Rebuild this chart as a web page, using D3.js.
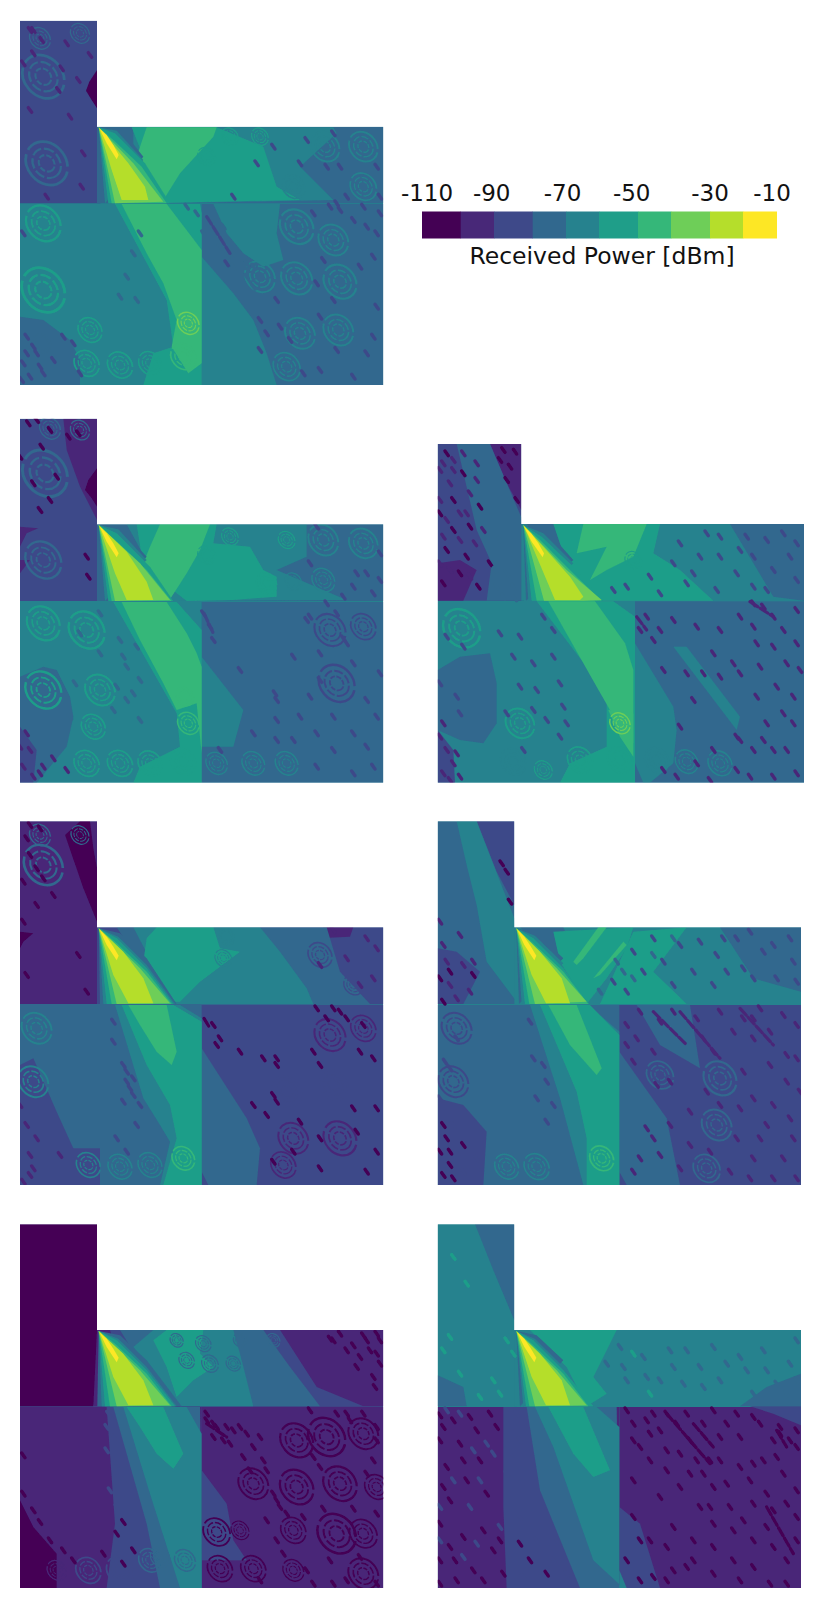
<!DOCTYPE html>
<html><head><meta charset="utf-8">
<script src="https://cdn.jsdelivr.net/npm/d3@7/dist/d3.min.js"></script>
<style>html,body{margin:0;padding:0;background:#fff}svg{display:block}text{font-family:"DejaVu Sans";fill:#111}</style>
</head><body><svg id="c" width="830" height="1607"></svg>
<script>
// Received power in dBm (bin centres); coordinates are read positions on a 1200-unit crop of each panel.
const binColors=["#440154","#482878","#3e4989","#31688e","#26828e","#1f9e89","#35b779","#6ece58","#b5de2b","#fde725"];
const barEdges=[422,460.7,494,532.7,566,599,638,671,710,743,776.7];
const tickLabels=["-110","-90","-70","-50","-30","-10"];
const tickX=[427,491.7,562.5,631.7,710,772];
const midBase=[-65,-65,-65,-75,-65,-85,-65];

const panelFrames=[
 {crop:[0,0],top:62,room:380,right:1150,stem:291,left:60,bottom:1155},
 {crop:[0,400],top:56,room:373,right:1150,stem:291,left:60,bottom:1148},
 {crop:[420,430],top:42,room:282,right:1152,stem:304,left:53,bottom:1058},
 {crop:[0,805],top:49,room:367,right:1150,stem:291,left:60,bottom:1140},
 {crop:[420,805],top:49,room:367,right:1143,stem:283,left:53,bottom:1140},
 {crop:[0,1207],top:52,room:369,right:1150,stem:291,left:60,bottom:1143},
 {crop:[420,1207],top:52,room:369,right:1143,stem:283,left:53,bottom:1143}
];

const regions1=[
[-85,"60,62 291,62 291,380 302,610 60,610"],
[-105,"291,210 268,245 258,272 275,300 291,325"],
[-75,"291,380 1150,380 1150,610 291,610"],
[-65,"640,382 1000,382 1010,400 900,500 1000,600 500,610 400,500 400,382"],
[-55,"395,382 650,382 790,440 830,560 900,600 500,608 430,470"],
[-45,"440,382 650,382 640,410 540,520 490,600 440,520 410,470"],
[-65,"60,612 605,612 605,1155 60,1155"],
[-75,"60,950 130,960 210,1020 240,1080 240,1155 60,1155"],
[-75,"605,612 1150,612 1150,1155 605,1155"],
[-65,"640,612 840,612 830,700 850,780 790,800 730,760 680,700"],
[-65,"605,770 700,880 760,960 800,1060 830,1155 605,1155"],
[-55,"345,612 600,612 605,640 605,1155 625,1155 430,1155 460,1060 520,1040 500,900"],
[-45,"365,612 500,612 605,750 605,1090 565,1120 515,1040 530,960 490,850 440,760"]];
const regions2=[
[-85,"60,56 291,56 291,373 302,603 60,603"],
[-95,"190,56 291,56 291,360 240,260 200,150"],
[-105,"291,205 265,240 255,270 275,295 291,320"],
[-95,"60,380 115,385 80,400 60,440"],[-95,"60,480 90,480 60,520"],
[-75,"291,373 1150,373 1150,603 291,603"],
[-65,"380,373 920,373 920,470 830,510 1040,600 520,603 460,520"],
[-55,"410,373 650,373 640,430 750,440 790,510 830,530 830,590 700,600 560,603 430,500"],
[-45,"480,373 630,373 600,450 560,520 510,598 460,520 430,490 450,440"],
[-65,"60,606 605,606 605,1148 60,1148"],
[-75,"60,830 130,800 170,810 210,890 220,950 200,1040 110,1148 60,1148"],
[-85,"60,980 110,1050 100,1148 60,1148"],
[-75,"605,606 1150,606 1150,1148 605,1148"],
[-65,"605,770 730,930 700,1040 605,1040"],
[-55,"340,606 530,606 605,690 605,1148 625,1148 400,1148 420,1100 540,1040 530,940"],
[-45,"365,606 500,606 560,700 590,760 605,800 605,1060 590,910 530,930 490,850 420,720"]];
const regions3=[
[-85,"53,42 304,42 304,282 312,512 53,512"],
[-95,"210,42 304,42 304,240 260,160"],
[-75,"110,42 210,42 304,262 312,512 200,512 215,400 170,300"],
[-95,"53,400 120,390 170,420 130,512 53,512"],
[-65,"304,282 1152,282 1152,512 304,512"],
[-75,"320,282 430,282 470,380 420,390"],[-75,"930,282 1152,282 1152,512 1060,500"],
[-55,"400,282 720,282 700,370 780,420 880,512 540,512 440,400"],
[-45,"490,282 680,282 640,380 560,420 510,450 560,350 470,370"],
[-65,"53,514 645,514 645,1058 53,1058"],
[-75,"53,720 120,680 210,670 230,760 230,880 190,940 120,930 53,900"],
[-85,"53,900 100,960 105,1058 53,1058"],
[-75,"645,514 1152,514 1152,1058 645,1058"],
[-65,"645,640 760,830 770,900 760,1000 690,1058 670,1058 645,1000"],
[-65,"760,650 800,650 960,860 950,900"],
[-55,"350,514 580,514 645,560 645,1058 670,1058 420,1058 450,1000 560,950 560,790"],
[-45,"385,514 525,514 615,640 640,720 640,940 570,840 530,770"],
[-45,"565,840 640,850 640,980 600,920"]];
const regions4=[
[-95,"60,49 291,49 291,367 296,597 60,597"],
[-105,"195,90 240,49 270,49 280,130 291,190 291,350 250,250"],
[-105,"60,380 100,385 70,410 60,430"],
[-85,"291,367 1150,367 1150,597 291,597"],
[-95,"970,367 1060,367 1050,395 960,400"],
[-75,"350,367 980,367 1020,500 1110,597 500,597"],
[-65,"400,367 780,367 840,440 920,550 940,597 520,597"],
[-55,"440,400 470,367 640,367 660,430 720,440 600,530 540,590 500,590 470,520 430,470"],
[-75,"60,600 605,600 605,1140 60,1140"],
[-85,"60,780 100,760 170,920 220,1030 300,1030 300,1140 60,1140"],
[-85,"605,600 1150,600 1150,1140 605,1140"],
[-75,"605,730 740,940 780,1030 770,1140 625,1140 605,1100"],
[-65,"345,600 540,600 605,640 605,1140 625,1140 480,1140 510,1010 480,960 430,880"],
[-55,"365,600 520,600 605,650 605,1140 625,1140 490,1140 530,1000 510,900 440,780"],
[-45,"385,600 500,600 530,740 515,780 470,740 420,660"]];
const regions5=[
[-75,"53,49 283,49 283,367 292,597 53,597"],
[-85,"170,49 283,49 283,300 230,200"],
[-65,"110,49 170,49 283,340 290,590 200,470 170,300 140,180"],
[-85,"53,430 110,440 180,500 130,597 53,597"],
[-65,"283,367 1143,367 1143,597 283,597"],
[-75,"300,367 430,367 470,460 380,440"],[-75,"900,367 1143,367 1143,560 1000,520"],
[-55,"400,380 640,367 620,430 560,520 500,597 420,470"],
[-55,"640,380 800,367 700,500 800,597 540,597"],
[-45,"535,367 560,367 490,460 470,480 460,470"],
[-45,"610,410 620,420 540,510 520,520"],
[-75,"53,600 600,600 600,1140 53,1140"],
[-85,"53,880 130,900 200,980 190,1140 53,1140"],
[-85,"598,600 1143,600 1143,1140 598,1140"],
[-75,"598,740 740,940 780,1140 620,1140 598,1100"],
[-75,"650,600 810,600 840,790 720,720"],
[-65,"330,600 505,600 598,680 598,1140 490,1140 420,880"],
[-55,"360,600 510,600 598,690 598,1140 620,1140 500,1140 500,1000 470,860"],
[-45,"385,600 470,600 545,790 530,810 450,720"]];
const regions6=[
[-105,"60,52 291,52 291,369 291,560 280,598 60,598"],
[-95,"291,369 1150,369 1150,598 280,598"],
[-85,"330,369 840,369 950,540 1090,598 400,598"],
[-75,"360,369 790,369 870,480 960,598 500,598"],
[-65,"400,420 460,369 700,369 720,440 760,598 540,598"],
[-55,"460,400 500,369 610,369 600,440 640,480 580,520 530,570 500,480"],
[-95,"60,600 605,600 605,1143 60,1143"],
[-105,"60,880 100,960 170,1040 170,1143 60,1143"],
[-95,"605,600 1150,600 1150,1143 605,1143"],
[-85,"605,790 680,890 700,1000 740,1060 605,1060"],
[-85,"320,600 600,600 605,1143 320,1143 345,950"],
[-75,"340,600 600,600 605,1143 480,1143 440,950"],
[-65,"370,600 560,600 605,680 605,1143 625,1143 540,1143 450,860"],
[-55,"380,600 490,600 550,740 520,785 470,740 420,660"]];
const regions7=[
[-65,"53,52 283,52 283,369 290,598 53,598"],
[-75,"165,52 283,52 283,340 220,190"],
[-75,"53,505 130,540 140,598 53,598"],
[-65,"283,369 1143,369 1143,598 283,598"],
[-75,"1143,500 1040,540 960,598 1143,598"],
[-55,"330,369 590,369 560,430 520,510 560,560 500,598 440,480"],
[-95,"53,600 598,600 598,1143 53,1143"],
[-85,"250,600 345,600 400,840 500,1143 260,1143 250,900"],
[-95,"598,600 1143,600 1143,1143 598,1143"],
[-85,"990,598 1143,598 1143,655 1060,620"],
[-85,"598,900 660,950 720,1143 598,1143"],
[-75,"320,600 590,600 598,1143 480,1143 360,850"],
[-65,"345,600 530,600 598,660 598,1143 610,1143 520,1060 400,720"],
[-55,"385,600 490,600 570,790 520,810 460,740"],
[-65,"598,1090 620,1143 598,1143"]];
const regionsAll=[regions1,regions2,regions3,regions4,regions5,regions6,regions7];

// Fan of the direct beam near the source, one per panel: power, outline
const fan1=[[-75,"296,382 360,382 430,470 306,610"],[-65,"296,382 350,392 430,480 315,610"],[-55,"296,382 345,400 435,490 510,610 325,610"],[-45,"296,382 340,420 425,500 500,610 335,610"],[-35,"296,382 400,490 490,605 345,610"],[-25,"296,382 385,490 435,560 445,600 365,600 335,510"],[-15,"298,385 320,430 350,478 356,465 340,435 320,405"]];
const fan2=[[-75,"296,375 360,380 440,470 306,603"],[-65,"296,375 355,388 440,480 315,603"],[-55,"296,375 350,400 450,500 520,603 325,603"],[-45,"296,375 340,420 440,510 515,603 335,603"],[-35,"296,375 420,490 510,600 345,603"],[-25,"296,375 380,455 440,545 460,600 380,600 345,520"],[-15,"298,378 320,425 350,472 356,460 340,430 320,400"]];
const fan3=[[-75,"310,285 380,300 460,390 318,512"],[-65,"310,285 370,310 460,400 325,512"],[-55,"310,285 365,320 470,420 548,512 335,512"],[-45,"310,285 360,330 470,440 545,512 350,512"],[-35,"310,285 440,420 545,510 490,512 372,512"],[-25,"310,285 370,350 450,440 490,500 480,510 405,510"],[-15,"311,288 335,335 368,382 372,370 355,340 335,312"]];
const fan4=[[-75,"296,370 360,385 440,460 530,597 300,597"],[-65,"296,370 355,395 440,480 525,597 310,597"],[-55,"296,370 350,400 440,490 520,597 320,597"],[-45,"296,370 345,410 440,500 515,597 335,597"],[-35,"296,370 420,490 510,595 350,597"],[-25,"296,370 370,440 430,520 460,595 385,595 340,510"],[-15,"298,373 320,420 350,466 356,452 340,425 320,395"]];
const fan5=[[-75,"289,370 350,385 430,460 297,597"],[-65,"289,370 345,392 430,475 305,597"],[-55,"289,370 340,400 430,490 508,597 315,597"],[-45,"289,370 335,410 430,500 505,597 328,597"],[-35,"289,370 410,490 500,590 345,597"],[-25,"289,370 360,440 425,520 450,595 378,595 335,510"],[-15,"291,373 313,420 343,466 349,452 333,425 313,395"]];
const fan6=[[-75,"296,372 360,385 440,460 545,598 292,598"],[-65,"296,372 355,395 440,480 530,598 305,598"],[-55,"296,372 350,400 440,490 525,598 315,598"],[-45,"296,372 345,410 440,500 515,598 330,598"],[-35,"296,372 420,490 510,595 350,598"],[-25,"296,372 370,440 430,520 460,595 385,595 340,510"],[-15,"298,375 320,420 350,466 356,452 340,425 320,395"]];
const fan7=[[-75,"289,372 350,385 430,460 300,598"],[-65,"289,372 345,395 430,480 310,598"],[-55,"289,372 340,400 430,490 520,598 318,598"],[-45,"289,372 335,410 430,500 505,598 328,598"],[-35,"289,372 410,490 500,595 345,598"],[-25,"289,372 360,440 425,520 450,595 378,595 335,510"],[-15,"291,375 313,420 343,466 349,452 333,425 313,395"]];
const fansAll=[fan1,fan2,fan3,fan4,fan5,fan6,fan7];

// Interference rings: power, "cx,cy,r"
const rings1=[
[-75,"130,230,70 140,490,70 240,100,32 120,115,35"],
[-55,"130,670,58 130,870,72 260,1090,42 360,1095,42 450,1090,38 270,990,40"],
[-75,"125,1030,30"],
[-35,"565,970,36"],[-45,"550,1070,42"],
[-65,"975,440,48 1090,440,48 880,560,38 1090,560,44"],
[-55,"620,470,30 690,410,28 780,410,28"],
[-65,"890,835,52 1020,845,55 900,1000,50 1015,990,50 780,830,50 890,680,56 1000,720,50 860,1100,45"]];
const rings2=[
[-75,"135,220,75 150,85,35 240,90,32 130,480,60"],
[-55,"130,670,55 260,690,60 130,870,60 260,1090,42 360,1090,42 450,1090,40 550,1085,42"],
[-55,"300,870,50 280,980,40"],
[-45,"565,970,36 555,890,30"],
[-55,"620,465,30 800,550,34 690,410,28 860,420,28"],
[-65,"970,420,50 1090,430,48 970,540,38 880,545,28"],
[-85,"990,690,52 1090,680,42 1010,850,60"],
[-65,"650,1090,36 760,1090,38 860,1090,38"]];
const rings3=[
[-55,"125,595,62 300,880,48 370,1020,30 480,990,42 600,990,42"],
[-65,"280,995,42"],
[-35,"600,880,34"],
[-65,"710,990,40 800,995,38 900,1000,40"],
[-55,"640,390,28"]];
const rings4=[
[-75,"130,180,65 120,90,35 240,90,30"],
[-65,"110,670,50 100,830,50 265,1080,40 360,1085,40 450,1080,40"],
[-45,"550,1060,38"],
[-65,"670,460,28 680,395,26"],
[-85,"960,450,40 1060,540,32 860,860,50 1000,840,48"],
[-95,"990,690,52 1090,670,42 880,1000,50 1020,1000,55 850,1080,42"]];
const rings5=[
[-85,"110,670,50 100,830,50"],
[-65,"260,1085,40 350,1085,42"],
[-45,"545,1060,40"],
[-75,"720,810,45"],[-75,"860,1090,45"],[-75,"900,820,55 890,960,50"]];
const rings6=[
[-95,"170,1090,32"],
[-85,"265,1090,42 360,1090,45"],
[-75,"450,1060,38 555,1060,35 480,1050,32"],
[-75,"530,400,22 610,410,26 630,470,28 560,460,26 700,470,24 720,400,22 820,400,22"],
[-105,"890,700,55 980,690,62 1090,680,50 890,840,56 1020,830,56 1130,840,40 1010,980,64 880,970,42 1090,980,46 760,830,50"],
[-105,"650,975,45 660,1085,42 760,1085,42 880,1090,35 1090,1100,50 720,970,30"]];
const rings7=[];
const ringsAll=[rings1,rings2,rings3,rings4,rings5,rings6,rings7];

// Isolated fading dips: power, "x,y" centres
const dips1=[
[-95,"90,90 125,120 200,130 100,160 185,205 235,240 90,330 210,350 250,460 100,90 70,190 270,165 175,270 140,590 245,560"],
[-75,"610,700 640,670 620,650 680,770 700,800 740,830 660,740 590,640 560,620 420,700 400,760 380,830 410,900 360,890 650,700 700,760 730,790 670,680 760,800 760,860 740,790"],
[-85,"1020,630 990,620 1060,660 1100,680 1010,610 970,780 950,850 830,900 680,790 870,1020 1010,1050 1130,700 1080,800 1130,920 1000,900 960,1110 1060,1130 780,960 800,1000 840,980 1100,1060 1090,620 1140,640 940,640 1120,770 960,950 780,1050 910,1120 1120,1010"],
[-85,"80,1010 100,1040 120,1100 130,1120 70,1090 90,1130 220,1030 160,1080 190,1010 80,1060 70,700 240,1120 65,1140 110,1060"],
[-85,"1020,500 980,500 900,490 1040,590 1140,590 820,440 700,590 770,490 920,420 1130,500 1000,400"]];
const dips2=[
[-105,"85,70 110,60 205,110 235,100 150,90 125,140 170,230 100,250 60,170 150,300 120,330 260,470 265,530"],
[-85,"610,640 630,680 640,720 930,650 1030,715 1040,730 960,840 830,900 825,880 1060,1000 1100,1040 1000,950 880,770 1140,820 1130,950 1060,1120 950,1100 660,1050 920,660 1010,640 980,610 720,810 760,1000 830,960 900,950 950,1000 1120,1100 1000,1050 880,1020 930,890 1100,900 960,760 830,1020 1060,790"],
[-95,"160,1075 80,1000 90,1050 70,1100 120,1120 100,1130 200,1110 60,1040 130,1100"],
[-85,"1140,460 1070,520 1120,580 1140,540 930,490 1030,590 1100,520 1060,560 950,380"],
[-75,"370,770 350,860 400,880 420,840 300,760 240,700 225,850 210,950 380,800 410,740 360,720 300,640 420,960 380,900 340,930"]];
const dips3=[
[-105,"80,70 130,130 100,210 180,230 150,290 80,360 210,400 70,460 120,430 175,470 100,300 140,380 60,250 250,60 285,65 270,110 290,210 260,150 240,90"],
[-95,"60,120 170,100 90,160 70,320 120,250 165,340 60,400 90,420 150,440 70,100 130,70 100,120 150,190 60,210 120,330 190,300 170,150 80,270 140,250 100,90"],
[-75,"240,330 260,430 230,470 280,470 290,400 250,500 285,505 225,420"],
[-85,"980,320 1040,330 900,320 840,380 950,430 1110,380 1060,420 1130,450 800,460 890,480 1000,470 760,400 860,310 1000,380 1090,310 1130,340 1040,480 900,380 780,340 960,360 820,430 720,490 620,470 690,440 580,480"],
[-95,"1000,520 1030,530 1060,560 1090,600 680,560 720,600 700,630 900,600 1010,640 1070,770 950,920 960,930 820,810 730,720 1040,880 1100,960 1120,800 880,670 1020,710 780,890 830,1000 950,1020 1060,1040 1130,640 660,600 760,570 830,590 960,560 1000,590 1130,540 1100,700 1140,720 960,730 900,740 850,730 800,730 1060,650 1010,800 940,700 1120,880 1000,960 880,960 1060,960 1130,1030 990,1040 870,1050 770,1040 730,1020 1090,850 1030,930"],
[-95,"60,920 80,960 70,1030 100,1000 120,1040 90,1050 70,880 110,970"],
[-85,"420,760 400,680 370,560 430,830 350,780 120,850 110,800 310,960 420,920 400,600 300,620 280,680 340,700 240,610 300,770 260,850 380,870 340,840 440,880 130,650 60,760 80,620"]];
const dips4=[
[-105,"90,60 120,70 80,100 90,150 110,190 70,230 130,220 160,270 70,350 110,300 235,450 260,560 80,510"],
[-95,"60,900 80,960 90,1050 100,1090 70,1130 90,1110 110,1000 180,1050"],
[-105,"640,660 660,700 720,740 820,870 830,890 940,740 960,780 650,720 1090,660 1040,640 1000,610 1130,910 950,610 1070,980 880,1040 820,1070 960,1090 1100,1100 790,760 1080,740 960,1000 1020,620 980,640 830,780 830,760 1130,1040 1120,760 760,900 800,930 900,950 1060,910"],
[-95,"1000,375 1130,430 1120,520 1080,540 960,480 1100,400 1040,460"],
[-85,"370,780 380,830 400,870 370,890 410,960 340,650 340,710 380,800 390,850 400,820 420,900 350,1000 380,1040"]];
const dips5=[
[-105,"60,520 70,590 90,500 160,510 260,200 245,175 270,290 60,1040 90,1080 70,1110 80,1000 100,1120 90,1040 130,1020 70,960"],
[-95,"60,350 120,390 80,470 150,560 110,580 70,420 130,480 90,540 160,470"],
[-85,"110,700 90,790 350,880 380,830 400,900 330,650 380,950 75,770 60,880 100,960 170,1060 130,1100 340,760 370,780"],
[-95,"620,660 650,700 700,740 710,840 750,830 970,800 1020,610 1090,630 1130,660 1100,750 1000,880 1050,780 850,700 880,740 760,620 830,640 970,640 1130,1120 1090,1060 1020,1000 960,910 870,1040 810,1020 720,1050 780,1090 640,1100 1060,900 1110,940 860,860 1140,860 680,970 700,1000 620,720 640,770 900,620 940,680 1000,700 1050,680 1100,830 1040,960 1000,1060 950,1000 930,1100 900,900 1120,1000 1060,1120 990,1120 660,1060 810,920 750,960 1130,760 1000,640 660,620 720,650"],
[-85,"950,400 1030,440 890,450 840,410 1120,470 1070,520 1000,520 780,420 730,470 1110,400 920,500 670,500 640,440 880,540 970,490 1060,420 1130,530 820,500 760,540 700,400 620,560 580,530 990,380 910,400"],
[-75,"610,500 700,450 760,400 640,520 540,560 590,470"]];
const dips6=[
[-105,"620,640 650,660 640,690 670,700 700,670 740,680 690,710 760,720 730,750 780,690 790,760 750,790 830,880 840,900 820,860 930,610 1010,620 1040,620 1090,620 1050,640 1130,660 1130,700 1120,760 800,790 940,750 960,780 1100,800 1130,920 970,905 1060,905 860,920 910,930 800,940 830,1000 850,1040 990,1060 920,1090 1040,1120 1080,1050 1130,1130 1000,1130 780,1120 940,1130 620,620 640,650 680,660 720,660"],
[-105,"1040,430 1080,450 1120,510 1140,470 1000,400 1100,400 1060,415 1130,380 990,395 1110,430 1020,380 1090,385 1140,400 1130,440 1070,480 1125,540"],
[-105,"70,745 70,860 100,910 120,945 150,1000 190,1030 220,1060 310,1040 350,980 370,945 400,1030 370,1070"],
[-85,"320,730 350,770 330,850 370,820 350,900 340,640 325,620 320,660 340,690"]];
const dips7=[
[-105,"640,650 680,640 660,720 720,670 770,650 810,700 830,760 780,740 850,800 900,760 960,780 1000,770 1080,680 1110,700 1130,720 1020,650 960,690 900,690 850,650 740,790 690,760 640,820 720,870 780,840 870,900 930,900 970,940 1040,960 1100,890 1040,860 990,820 880,840 760,960 820,1000 880,1020 940,1060 1000,1080 1060,1020 1100,1060 1130,1000 1100,1130 1050,1130 960,1120 880,1100 800,1080 700,1110 660,1000 740,1020 640,930 1130,850 1090,800 1030,760 950,620 1070,750 620,610 700,620 740,620 800,620 880,610 920,650 1000,630 1060,700 1130,670 1080,660 640,700 690,680 740,730 810,800 870,760 920,830 1000,890 1060,910 1130,930 1000,1000 940,970 880,950 840,900 820,1060 760,1090 660,1120 740,1120 620,1060 690,1000"],
[-105,"60,625 100,640 230,660 170,670 60,700 120,710 80,780 180,760 140,820 90,880 60,950 130,990 190,970 90,1020 60,1060 105,1060 160,1090 220,1030 250,1100 330,1060 300,1010 380,1100 200,860 240,1000 210,620 150,630 70,660 130,760 70,840 60,1130 110,1120 190,1120"],
[-85,"60,1000 150,900 260,800 300,930 300,700 410,1000 440,1100 350,1000 200,710 120,620 100,820 240,960 310,1110 400,1060 170,1010 220,740 290,620 60,900 130,1050 180,820 160,730 80,610"],
[-75,"600,420 670,450 760,480 840,480 900,520 980,490 1070,530 1110,470 1030,430 960,450 800,430 720,520 620,520 560,470 1100,560 880,420 1040,490 1130,400 920,470 750,430 680,510 610,480 850,540 790,530 1000,560 1130,520"],
[-55,"100,150 140,230 70,430 120,500 90,390 280,440 260,400 240,560 180,570 220,520 690,560 640,440"]];
const dipsAll=[dips1,dips2,dips3,dips4,dips5,dips6,dips7];

// Long diagonal fading streaks: power, "x1,y1,x2,y2"
const streaks=[
 [[-85,"620,650,690,760"]],
 [[-85,"612,640,640,700"]],
 [[-95,"650,560,680,600 990,515,1060,560"]],
 [[-105,"612,640,630,670"]],
 [[-95,"700,620,800,720 780,620,900,760 960,610,1060,720"]],
 [[-105,"620,650,680,690"]],
 [[-105,"740,620,870,770 820,650,880,720 1040,900,1120,1040 1070,670,1100,720"]]
];

const svg=d3.select("#c");
const defs=svg.append("defs");
defs.append("filter").attr("id","soft").attr("x","-2%").attr("y","-2%").attr("width","104%").attr("height","104%")
 .append("feGaussianBlur").attr("stdDeviation",0.55);
const color=d3.scaleQuantize().domain([-110,-10]).range(binColors);
const pts=s=>s.trim().split(/\s+/).map(p=>p.split(",").map(Number));

panelFrames.forEach((f,i)=>{
 const x=d3.scaleLinear().domain([0,1200]).range([f.crop[0],f.crop[0]+400]);
 const y=d3.scaleLinear().domain([0,1200]).range([f.crop[1],f.crop[1]+400]);
 const len=d3.scaleLinear().domain([0,1200]).range([0,400]);
 const line=d3.line().x(d=>x(d[0])).y(d=>y(d[1])).curve(d3.curveLinearClosed);
 const border=[[f.left,f.top],[f.stem,f.top],[f.stem,f.room],[f.right,f.room],[f.right,f.bottom],[f.left,f.bottom]];
 defs.append("clipPath").attr("id","clip"+i).append("path").attr("d",line(border));
 const g=svg.append("g").attr("clip-path",`url(#clip${i})`).append("g").attr("filter","url(#soft)");
 g.append("path").attr("d",line(border)).attr("fill",color(midBase[i]));
 g.selectAll("path.r").data(regionsAll[i]).join("path").attr("class","r")
  .attr("d",d=>line(pts(d[1]))).attr("fill",d=>color(d[0]));
 ringsAll[i].forEach(([v,s])=>{
  const c=pts(s), rg=g.append("g").attr("fill","none").attr("stroke",color(v));
  const el=(cls,k,w,dash)=>rg.selectAll("ellipse."+cls).data(c).join("ellipse").attr("class",cls)
   .attr("transform",d=>`translate(${x(d[0])},${y(d[1])}) rotate(50)`)
   .attr("rx",d=>len(d[2]*k)).attr("ry",d=>len(d[2]*k*0.82)).attr("stroke-width",w)
   .attr("stroke-dasharray",dash);
  el("a",1,d=>Math.max(1.2,d[2]*0.04),d=>`${len(d[2]*2.4)} ${len(d[2]*0.2)}`);
  el("b",0.68,d=>Math.max(1,d[2]*0.032),d=>`${len(d[2]*0.45)} ${len(d[2]*0.12)}`);
  el("c",0.38,d=>Math.max(0.9,d[2]*0.03),d=>`${len(d[2]*0.25)} ${len(d[2]*0.08)}`);
 });
 dipsAll[i].forEach(([v,s])=>{
  g.append("g").selectAll("line").data(pts(s)).join("line")
   .attr("x1",d=>x(d[0]-5)).attr("y1",d=>y(d[1]-7)).attr("x2",d=>x(d[0]+5)).attr("y2",d=>y(d[1]+7))
   .attr("stroke",color(v)).attr("stroke-width",3.4).attr("stroke-linecap","round");
 });
 streaks[i].forEach(([v,s])=>{
  g.append("g").selectAll("line").data(pts(s)).join("line")
   .attr("x1",d=>x(d[0])).attr("y1",d=>y(d[1])).attr("x2",d=>x(d[2])).attr("y2",d=>y(d[3]))
   .attr("stroke",color(v)).attr("stroke-width",3.2).attr("stroke-linecap","round").attr("stroke-dasharray","9 3");
 });
 g.selectAll("path.f").data(fansAll[i]).join("path").attr("class","f")
  .attr("d",d=>line(pts(d[1]))).attr("fill",d=>color(d[0]));
});

// Colour bar
const bar=svg.append("g");
bar.selectAll("rect").data(binColors).join("rect")
 .attr("x",(d,i)=>barEdges[i]).attr("y",211.5).attr("width",(d,i)=>barEdges[i+1]-barEdges[i]+0.3).attr("height",27).attr("fill",d=>d);
bar.selectAll("text").data(tickLabels).join("text")
 .attr("x",(d,i)=>tickX[i]).attr("y",201).attr("text-anchor","middle").attr("font-size",23).text(d=>d);
svg.append("text").attr("x",602).attr("y",264).attr("text-anchor","middle").attr("font-size",23.5).text("Received Power [dBm]");
</script></body></html>
